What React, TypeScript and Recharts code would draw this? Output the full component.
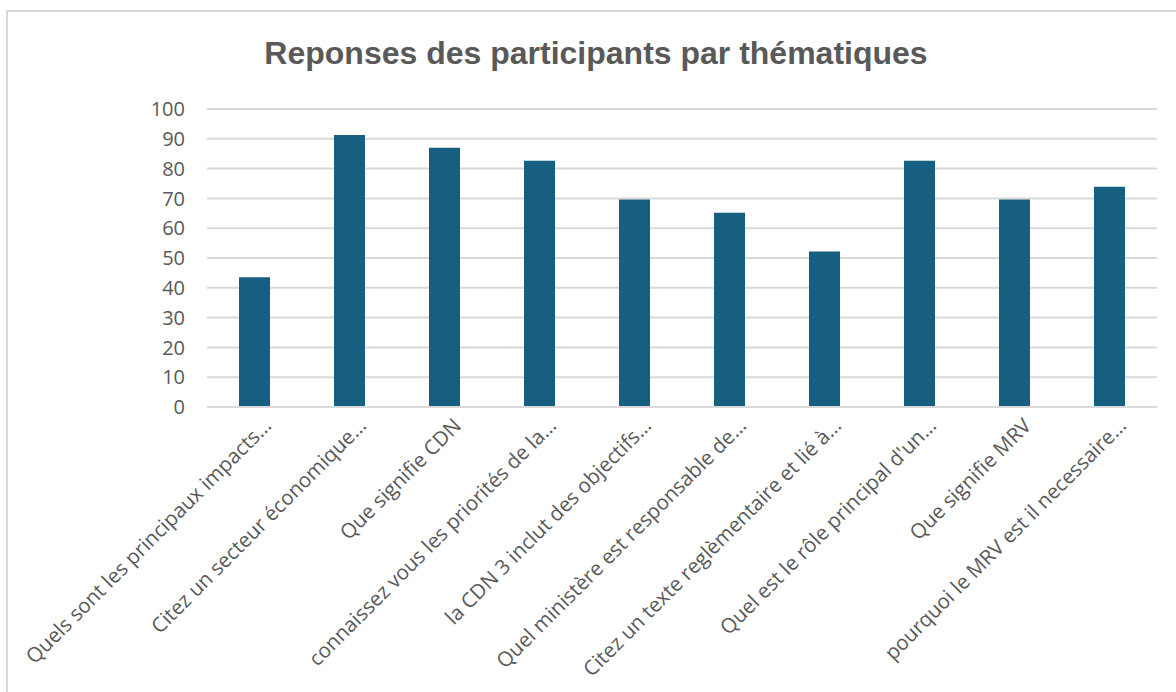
import { BarChart, Bar, XAxis, YAxis, CartesianGrid } from 'recharts'

const questions = [
  'Quels sont les principaux impacts…',
  'Citez un secteur économique…',
  'Que signifie CDN',
  'connaissez vous les priorités de la…',
  'la CDN 3 inclut des objectifs…',
  'Quel ministère est responsable de…',
  'Citez un texte reglèmentaire et lié à…',
  "Quel est le rôle principal d'un…",
  'Que signifie MRV',
  'pourquoi le MRV est il necessaire…',
]
const scores = [43.5, 91.3, 87.0, 82.6, 69.6, 65.2, 52.2, 82.6, 69.6, 73.9]
const yTicks = [0, 10, 20, 30, 40, 50, 60, 70, 80, 90, 100]

const chartData = questions.map((q, i) => ({ question: q, score: scores[i] }))

const GREY = '#595959'

function AngledTick({ x, y, payload }: { x?: number; y?: number; payload?: { value: string } }) {
  const ax = (x ?? 0) + 18
  const ay = (y ?? 0) + 18
  return (
    <text
      x={ax}
      y={ay}
      textAnchor="end"
      fill={GREY}
      fontSize={20.5}
      fontFamily="Open Sans, sans-serif"
      transform={`rotate(-45, ${ax}, ${ay})`}
    >
      {payload?.value}
    </text>
  )
}

export default function App() {
  return (
    <div style={{ position: 'absolute', left: 0, top: 0, width: 1176, height: 692, background: '#fff', overflow: 'hidden' }}>
      <div
        style={{
          position: 'absolute',
          left: 6,
          top: 10,
          width: 1200,
          height: 720,
          border: '2px solid #d9d9d9',
        }}
      />
      <div
        style={{
          position: 'absolute',
          left: 0,
          top: 35,
          width: 1192,
          textAlign: 'center',
          fontFamily: '"Liberation Sans", Arial, sans-serif',
          fontWeight: 'bold',
          fontSize: 32,
          color: GREY,
        }}
      >
        Reponses des participants par thématiques
      </div>
      <BarChart
        width={1176}
        height={692}
        data={chartData}
        margin={{ top: 109, right: 19, bottom: 0, left: 0 }}
        barCategoryGap={32}
        style={{ position: 'absolute', left: 0, top: 0 }}
      >
        <CartesianGrid vertical={false} stroke="#d9d9d9" strokeWidth={2} />
        <XAxis
          dataKey="question"
          interval={0}
          height={285}
          axisLine={{ stroke: '#d9d9d9', strokeWidth: 2 }}
          tickLine={false}
          tickSize={0}
          tick={<AngledTick />}
        />
        <YAxis
          domain={[0, 100]}
          ticks={yTicks}
          width={207}
          axisLine={false}
          tickLine={false}
          tickSize={0}
          tickMargin={22}
          tick={{ fill: GREY, fontSize: 20, fontFamily: 'Open Sans, sans-serif' }}
        />
        <Bar dataKey="score" fill="#175f80" isAnimationActive={false} />
      </BarChart>
    </div>
  )
}
